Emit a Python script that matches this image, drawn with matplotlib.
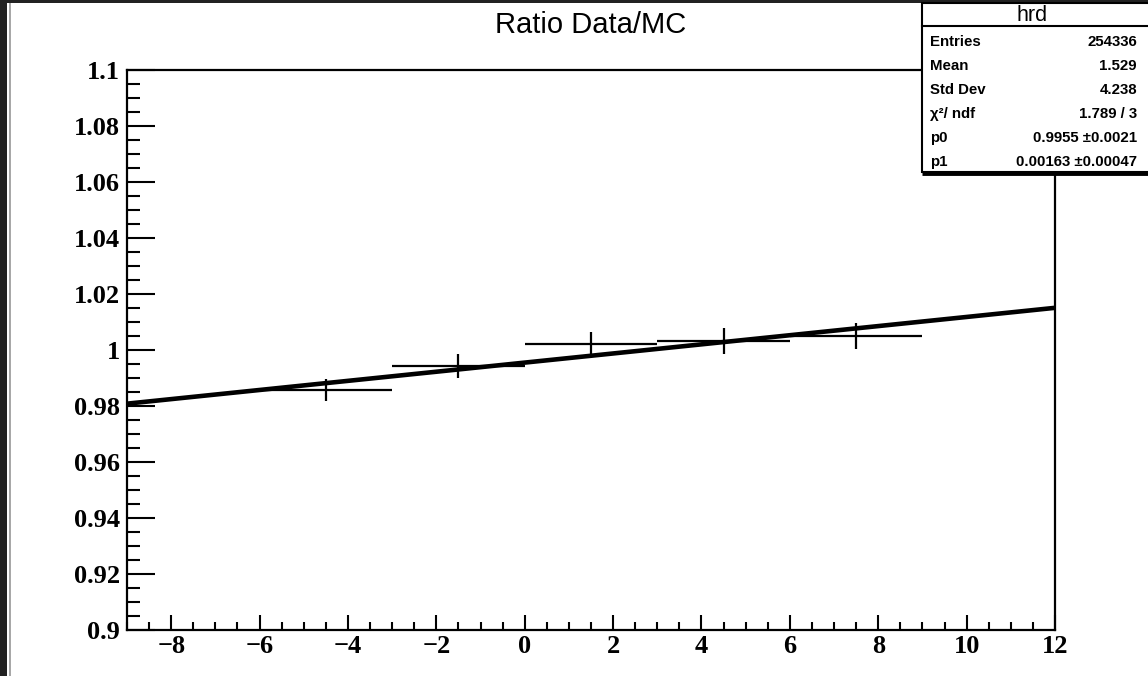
"""
Ratio Data/MC with a linear fit, ROOT-like look.
"""

import matplotlib
matplotlib.use("Agg")
import matplotlib.pyplot as plt
from matplotlib.patches import Rectangle
from matplotlib.ticker import MultipleLocator, FuncFormatter

# data
bin_centers = [-4.5, -1.5, 1.5, 4.5, 7.5]
bin_half_width = [1.5, 1.5, 1.5, 1.5, 1.5]
ratio = [0.9857, 0.9943, 1.0020, 1.0032, 1.0051]
ratio_err = [0.0040, 0.0043, 0.0046, 0.0046, 0.0046]

# fit parameters (pol1) from the stats box
p0 = 0.9955
p1 = 0.00163
x_range = [-9, 12]

stat_names = ["Entries", "Mean", "Std Dev", "χ²/ ndf", "p0", "p1"]
stat_values = ["254336", "1.529", "4.238", "1.789 / 3",
               "0.9955 \u00b10.0021", "0.00163 \u00b10.00047"]

W, H = 1148, 676
SERIF = "Liberation Serif"
SANS = "Liberation Sans"


def px_axes(left, top, right, bottom):
    return [left / W, 1 - bottom / H, (right - left) / W, (bottom - top) / H]


def draw_main(fig):
    ax = fig.add_axes(px_axes(127, 70, 1055, 630))
    ax.errorbar(bin_centers, ratio, xerr=bin_half_width, yerr=ratio_err,
                fmt="none", ecolor="black", elinewidth=1.6, capsize=0)
    fit_y = [p0 + p1 * x for x in x_range]
    ax.plot(x_range, fit_y, color="black", lw=3.3)

    ax.set_xlim(-9, 12)
    ax.set_ylim(0.9, 1.1)
    ax.xaxis.set_major_locator(MultipleLocator(2))
    ax.xaxis.set_minor_locator(MultipleLocator(0.5))
    ax.yaxis.set_major_locator(MultipleLocator(0.02))
    ax.yaxis.set_minor_locator(MultipleLocator(0.005))
    ax.yaxis.set_major_formatter(FuncFormatter(lambda v, _: f"{round(v, 3):g}"))
    ax.xaxis.set_major_formatter(FuncFormatter(
        lambda v, _: f"{int(round(v))}".replace("-", "\u2212")))

    ax.tick_params(axis="both", which="both", direction="in",
                   top=False, right=False, width=1.5, color="black")
    ax.tick_params(axis="y", which="major", length=20, pad=5)
    ax.tick_params(axis="y", which="minor", length=9.5)
    ax.tick_params(axis="x", which="major", length=11, pad=3.5)
    ax.tick_params(axis="x", which="minor", length=5.8)
    for lab in ax.get_xticklabels() + ax.get_yticklabels():
        lab.set_fontfamily(SERIF)
        lab.set_fontweight("bold")
        lab.set_fontsize(19)
    for sp in ax.spines.values():
        sp.set_linewidth(1.6)
    return ax


def draw_overlay(fig):
    ov = fig.add_axes([0, 0, 1, 1], zorder=5)
    ov.set_xlim(0, W)
    ov.set_ylim(H, 0)
    ov.axis("off")
    ov.patch.set_visible(False)

    # screenshot frame
    ov.add_patch(Rectangle((0, 0), W, 3, color="#222222", lw=0))
    ov.add_patch(Rectangle((0, 0), 7, H, color="#222222", lw=0))
    ov.add_patch(Rectangle((9, 3), 2, H, color="#a8a8a8", lw=0))

    # title
    ov.text(591, 33, "Ratio Data/MC", family=SANS, fontsize=21,
            ha="center", va="baseline")

    # stats box
    bl, bt, bb = 922, 3, 172
    ov.add_patch(Rectangle((bl, bt), W + 20 - bl, bb - bt,
                           facecolor="white", edgecolor="black", lw=1.5))
    ov.plot([bl, W], [bb + 1, bb + 1], color="black", lw=3.5,
            solid_capstyle="butt")
    ov.plot([bl, W], [26, 26], color="black", lw=1.5)
    ov.text(1032, 21, "hrd", family=SANS, fontsize=15.5,
            ha="center", va="baseline")
    for i, (name, val) in enumerate(zip(stat_names, stat_values)):
        y = 46 + i * 24
        ov.text(930, y, name, family=SANS, fontweight="bold",
                fontsize=10.8, ha="left", va="baseline")
        ov.text(1137, y, val, family=SANS, fontweight="bold",
                fontsize=10.8, ha="right", va="baseline")


def main():
    fig = plt.figure(figsize=(W / 100, H / 100), dpi=100)
    fig.patch.set_facecolor("white")
    draw_main(fig)
    draw_overlay(fig)
    fig.savefig("out.png", dpi=100)


if __name__ == "__main__":
    main()
